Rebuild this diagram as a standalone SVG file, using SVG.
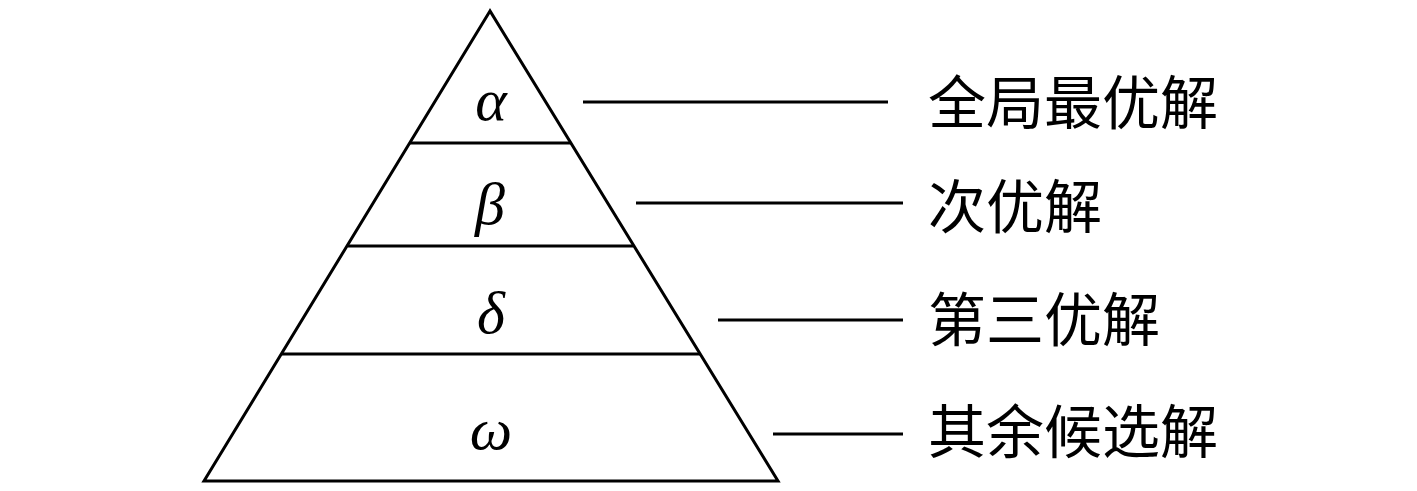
<svg xmlns="http://www.w3.org/2000/svg" width="1417" height="491" viewBox="0 0 1417 491">
<style>
.ln{stroke:#000;stroke-width:3;fill:none;stroke-linejoin:miter}
.gk{font-family:"Liberation Serif","DejaVu Serif",serif;font-style:italic;font-size:60px;text-anchor:middle;fill:#000}
.lb{font-family:"Noto Sans CJK SC","Noto Sans CJK JP",sans-serif;font-size:58px;fill:#000}
</style>
<rect width="1417" height="491" fill="#fff"/>
<g id="pyramid">
<polygon class="ln" points="490,11 204,481 778,481"/>
<line class="ln" x1="410" y1="143" x2="571" y2="143"/>
<line class="ln" x1="348" y1="246" x2="633" y2="246"/>
<line class="ln" x1="282" y1="354" x2="700" y2="354"/>
</g>
<g id="tier-alpha"><text class="gk" x="491" y="120">α</text></g>
<g id="tier-beta"><text class="gk" x="490" y="224">β</text></g>
<g id="tier-delta"><text class="gk" x="491" y="333">δ</text></g>
<g id="tier-omega"><text class="gk" x="491" y="449">ω</text></g>
<g id="label-global"><text class="lb" x="928" y="124">全局最优解</text></g>
<g id="label-second"><text class="lb" x="928" y="228">次优解</text></g>
<g id="label-third"><text class="lb" x="928" y="341">第三优解</text></g>
<g id="label-rest"><text class="lb" x="928" y="453">其余候选解</text></g>
<g id="connectors">
<line class="ln" x1="583" y1="102" x2="888" y2="102"/>
<line class="ln" x1="636" y1="203" x2="903" y2="203"/>
<line class="ln" x1="718" y1="320" x2="903" y2="320"/>
<line class="ln" x1="773" y1="434" x2="903" y2="434"/>
</g>
</svg>
